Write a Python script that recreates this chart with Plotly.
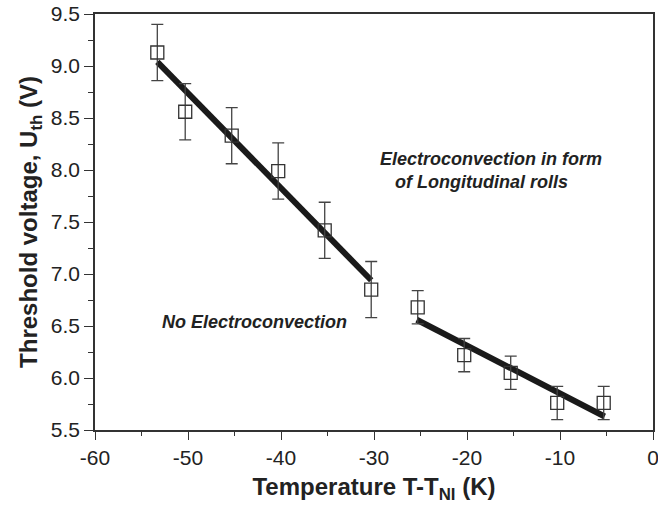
import plotly.graph_objects as go

temp = [-53.3, -50.3, -45.3, -40.3, -35.3, -30.3, -25.3, -20.3, -15.3, -10.3, -5.3]
uth = [9.13, 8.56, 8.33, 7.99, 7.42, 6.85, 6.68, 6.22, 6.05, 5.76, 5.76]
err = [0.27, 0.27, 0.27, 0.27, 0.27, 0.27, 0.16, 0.16, 0.16, 0.16, 0.16]

fit1_x = [-53.3, -30.3]
fit1_y = [9.04, 6.94]
fit2_x = [-25.4, -5.2]
fit2_y = [6.56, 5.63]

x_ticks = [-60, -50, -40, -30, -20, -10, 0]
x_ticklabels = ["-60", "-50", "-40", "-30", "-20", "-10", "0"]

FONT = "Liberation Sans, Arial, sans-serif"

fig = go.Figure()
fig.add_trace(go.Scatter(x=fit1_x, y=fit1_y, mode="lines",
                         line=dict(color="#1a1a1a", width=6), showlegend=False))
fig.add_trace(go.Scatter(x=fit2_x, y=fit2_y, mode="lines",
                         line=dict(color="#1a1a1a", width=6), showlegend=False))
fig.add_trace(go.Scatter(
    x=temp, y=uth, mode="markers",
    marker=dict(symbol="square-open", size=13, color="#333333", line=dict(width=1.3)),
    error_y=dict(type="data", array=err, visible=True, color="#444444", thickness=1.3, width=6),
    showlegend=False, cliponaxis=False))

fig.add_annotation(x=-17.4, y=8.11, text="<b><i>Electroconvection in form</i></b>",
                   showarrow=False, font=dict(family=FONT, size=18, color="#222222"))
fig.add_annotation(x=-18.4, y=7.88, text="<b><i>of Longitudinal rolls</i></b>",
                   showarrow=False, font=dict(family=FONT, size=18, color="#222222"))
fig.add_annotation(x=-42.9, y=6.54, text="<b><i>No Electroconvection</i></b>",
                   showarrow=False, font=dict(family=FONT, size=18, color="#222222"))

fig.update_layout(
    width=658, height=508,
    margin=dict(l=95, r=3, t=14, b=78),
    plot_bgcolor="white", paper_bgcolor="white",
    font=dict(family=FONT, color="#222222"),
)
fig.update_xaxes(
    range=[-60, 0], tickmode="array", tickvals=x_ticks, ticktext=x_ticklabels,
    ticklabeloverflow="allow", automargin="height",
    showline=True, linecolor="#333333", linewidth=1.5, mirror=True,
    ticks="outside", ticklen=8, tickwidth=1.3, tickcolor="#333333",
    minor=dict(dtick=5, tick0=-60, ticks="outside", ticklen=4, tickwidth=1.3, tickcolor="#333333"),
    showgrid=False, zeroline=False,
    tickfont=dict(size=21),
    title=dict(text="<b>Temperature T-T<sub>NI</sub> (K)</b>", font=dict(size=24), standoff=10),
)
fig.update_yaxes(
    range=[5.5, 9.5], dtick=0.5, tick0=5.5, tickformat=".1f",
    automargin="width",
    showline=True, linecolor="#333333", linewidth=1.5, mirror=True,
    ticks="outside", ticklen=9, tickwidth=1.3, tickcolor="#333333",
    minor=dict(dtick=0.25, ticks="outside", ticklen=5, tickwidth=1.3, tickcolor="#333333"),
    showgrid=False, zeroline=False,
    tickfont=dict(size=21),
    title=dict(text="<b>Threshold voltage, U<sub>th</sub> (V)</b>", font=dict(size=24), standoff=6),
)

fig.write_html("out.html")
